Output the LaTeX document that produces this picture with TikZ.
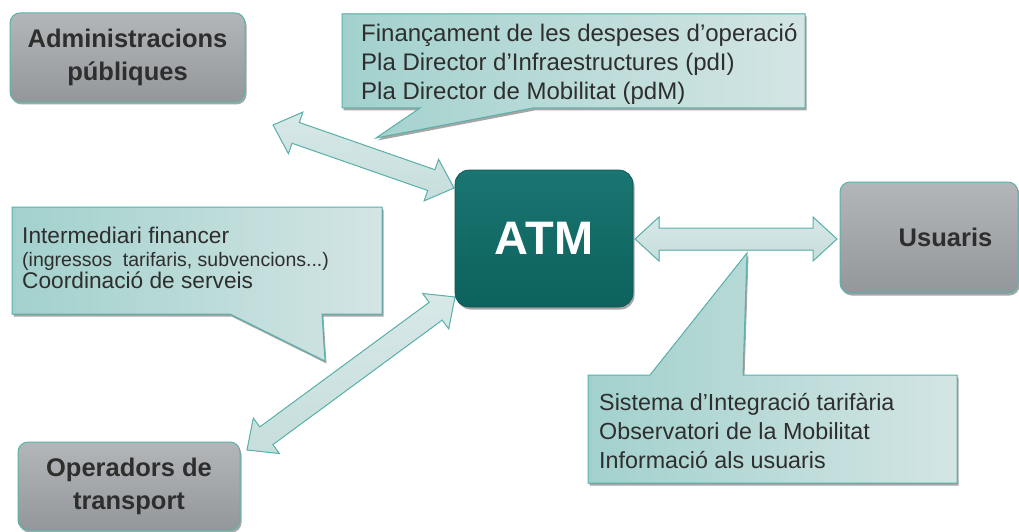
\documentclass[tikz,border=0pt]{standalone}
\usepackage{fontspec}
\setmainfont{Liberation Sans}
\usetikzlibrary{calc,shadows,backgrounds}
\definecolor{edge}{HTML}{5AB2AA}
\definecolor{atmfill}{HTML}{0E6D68}
\definecolor{grayfill}{HTML}{A0A4A8}
\definecolor{ink}{HTML}{2E2E2E}
\definecolor{bubbleL}{HTML}{A2D1CD}
\definecolor{bubbleR}{HTML}{D3E5E4}
\definecolor{arrowfill}{HTML}{C6DEDD}
\tikzset{
  shade/.style={drop shadow={shadow xshift=1.5pt, shadow yshift=-2.5pt, fill=black, opacity=.35}},
  actor/.style={draw=edge, line width=1pt, rounded corners=10pt, shade, top color=grayfill!80!white, bottom color=grayfill!92!black, text=ink, align=center, font=\fontsize{25.5}{33}\selectfont\bfseries},
  hub/.style={draw=atmfill!80!black, line width=.6pt, rounded corners=14pt, shade, top color=atmfill!95!white, bottom color=atmfill!90!black, text=white, font=\fontsize{47}{50}\selectfont\bfseries},
  bubble/.style={draw=edge, line width=1pt, shade, left color=bubbleL, right color=bubbleR},
  bubbletext/.style={anchor=north west, inner sep=0pt, align=left, text=ink},
  fat/.style={draw=edge, line width=1pt, top color=arrowfill!70!white, bottom color=arrowfill}
}
% fat double arrow between two named coordinates
\newcommand\fatarrow[2]{%
  \filldraw[fat] (#1)
  -- ($(#1)!24pt!(#2)!22pt!90:(#2)$) -- ($(#1)!24pt!(#2)!11pt!90:(#2)$)
  -- ($(#2)!24pt!(#1)!11pt!-90:(#1)$) -- ($(#2)!24pt!(#1)!22pt!-90:(#1)$)
  -- (#2)
  -- ($(#2)!24pt!(#1)!22pt!90:(#1)$) -- ($(#2)!24pt!(#1)!11pt!90:(#1)$)
  -- ($(#1)!24pt!(#2)!11pt!-90:(#2)$) -- ($(#1)!24pt!(#2)!22pt!-90:(#2)$)
  -- cycle;}
\begin{document}
\begin{tikzpicture}[x=1pt, y=-1pt, font=\fontsize{22.5}{29.5}\selectfont]
  \useasboundingbox (0,0) rectangle (1019,532);
  % boxes
  \node[actor, minimum width=235pt, minimum height=89pt] (adm) at (127.5,57.5) {Administracions\\públiques};
  \node[actor, minimum width=222pt, minimum height=88pt] (op) at (129,486) {Operadors de\\transport};
  \node[actor, minimum width=178pt, minimum height=111pt] (usu) at (929,237.5) {\hspace*{33pt}Usuaris};
  \node[hub, minimum width=178pt, minimum height=137pt] (atm) at (544,238.5) {ATM};
  % ends of the arrows
  \path (273,125) coordinate (adm-e) (454,188) coordinate (atm-nw)
    (635,239) coordinate (atm-e) (837,239) coordinate (usu-w)
    (455,297) coordinate (atm-sw) (247,450) coordinate (op-ne);
  \begin{scope}[on background layer]
    \foreach \a/\b in {adm-e/atm-nw, atm-e/usu-w, atm-sw/op-ne}{
      \fatarrow{\a}{\b}
    }
    \filldraw[bubble] (342,14) -- (805,14) -- (805,108) -- (533,108) -- (376,138) -- (420,108) -- (342,108) -- cycle;
    \filldraw[bubble] (12,207) -- (382,207) -- (382,314) -- (322,314) -- (325,361) -- (230,314) -- (12,314) -- cycle;
    \filldraw[bubble] (588,375) -- (650,375) -- (747,253) -- (743,375) -- (957,375) -- (957,483) -- (588,483) -- cycle;
  \end{scope}
  % texts of the callouts
  \node[bubbletext, font=\fontsize{24}{29}\selectfont] (fin) at (361,24) {Finançament de les despeses d’operació\\Pla Director d’Infraestructures (pdI)\\Pla Director de Mobilitat (pdM)};
  \node[bubbletext, font=\fontsize{22.7}{22.5}\selectfont] (inter) at (22,227) {Intermediari financer\\{\fontsize{19.5}{21}\selectfont (ingressos\ \ tarifaris, subvencions...)}\\Coordinació de serveis};
  \node[bubbletext, font=\fontsize{23.3}{29}\selectfont] (sist) at (599,393.5) {Sistema d’Integració tarifària\\Observatori de la Mobilitat\\Informació als usuaris};
\end{tikzpicture}
\end{document}
